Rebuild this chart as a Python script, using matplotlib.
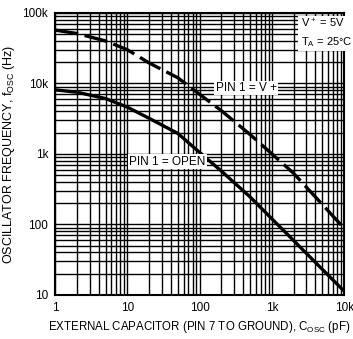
import matplotlib
matplotlib.use('Agg')
import matplotlib.pyplot as plt
from matplotlib.ticker import FixedLocator, FixedFormatter, LogLocator, NullFormatter

plt.rcParams['font.family'] = ['Liberation Sans', 'DejaVu Sans']
plt.rcParams['mathtext.default'] = 'regular'

# capacitance (pF)
cap = [1, 2, 5, 10, 20, 50, 100, 200, 500, 1000, 2000, 5000, 10000]
# PIN 1 = V+ (dashed)
f_vplus = [57000, 51000, 40000, 30000, 19500, 12000, 7000, 4100, 1880, 1000, 530, 191, 88]
# PIN 1 = OPEN (solid)
f_open = [8100, 7500, 6100, 4600, 3200, 1950, 1050, 570, 245, 120, 59, 23, 11.3]

xticks = [1, 10, 100, 1000, 10000]
xlabels = ['1', '10', '100', '1k', '10k']
yticks = [10, 100, 1000, 10000, 100000]
ylabels = ['10', '100', '1k', '10k', '100k']

fig = plt.figure(figsize=(3.53, 3.39), dpi=100)
ax = fig.add_axes([0.156, 0.130, 0.819, 0.832])

ax.set_xscale('log')
ax.set_yscale('log')
ax.set_xlim(1, 10000)
ax.set_ylim(10, 100000)

ax.xaxis.set_major_locator(FixedLocator(xticks))
ax.xaxis.set_major_formatter(FixedFormatter(xlabels))
ax.yaxis.set_major_locator(FixedLocator(yticks))
ax.yaxis.set_major_formatter(FixedFormatter(ylabels))
ax.xaxis.set_minor_locator(LogLocator(base=10, subs=range(2, 10)))
ax.yaxis.set_minor_locator(LogLocator(base=10, subs=range(2, 10)))
ax.xaxis.set_minor_formatter(NullFormatter())
ax.yaxis.set_minor_formatter(NullFormatter())
ax.tick_params(which='both', length=0, labelsize=8.5, pad=5)

ax.grid(True, which='both', color='black', linewidth=1.0)
for s in ax.spines.values():
    s.set_linewidth(1.5)

ax.plot(cap, f_vplus, color='black', linewidth=2.4, dashes=(7, 2), zorder=3)
ax.plot(cap, f_open, color='black', linewidth=2.4, zorder=3)

box = dict(facecolor='white', edgecolor='none', pad=1)
ax.text(440, 8600, 'PIN 1 = V +', fontsize=8.5, ha='center', va='center',
        bbox=box, zorder=4)
ax.text(36, 771, 'PIN 1 = OPEN', fontsize=8.5, ha='center', va='center',
        bbox=box, zorder=4)
ax.text(0.85, 0.985, 'V$^+$ = 5V\nT$_A$ = 25°C', transform=ax.transAxes,
        fontsize=8, ha='left', va='top', linespacing=1.45,
        bbox=dict(facecolor='white', edgecolor='none', pad=2), zorder=4)

ax.set_ylabel('OSCILLATOR FREQUENCY, f$_{OSC}$ (Hz)', fontsize=9, labelpad=4)
ax.set_xlabel('EXTERNAL CAPACITOR (PIN 7 TO GROUND), C$_{OSC}$ (pF)',
              fontsize=8.3, labelpad=4)

fig.savefig('out.png', dpi=100)
